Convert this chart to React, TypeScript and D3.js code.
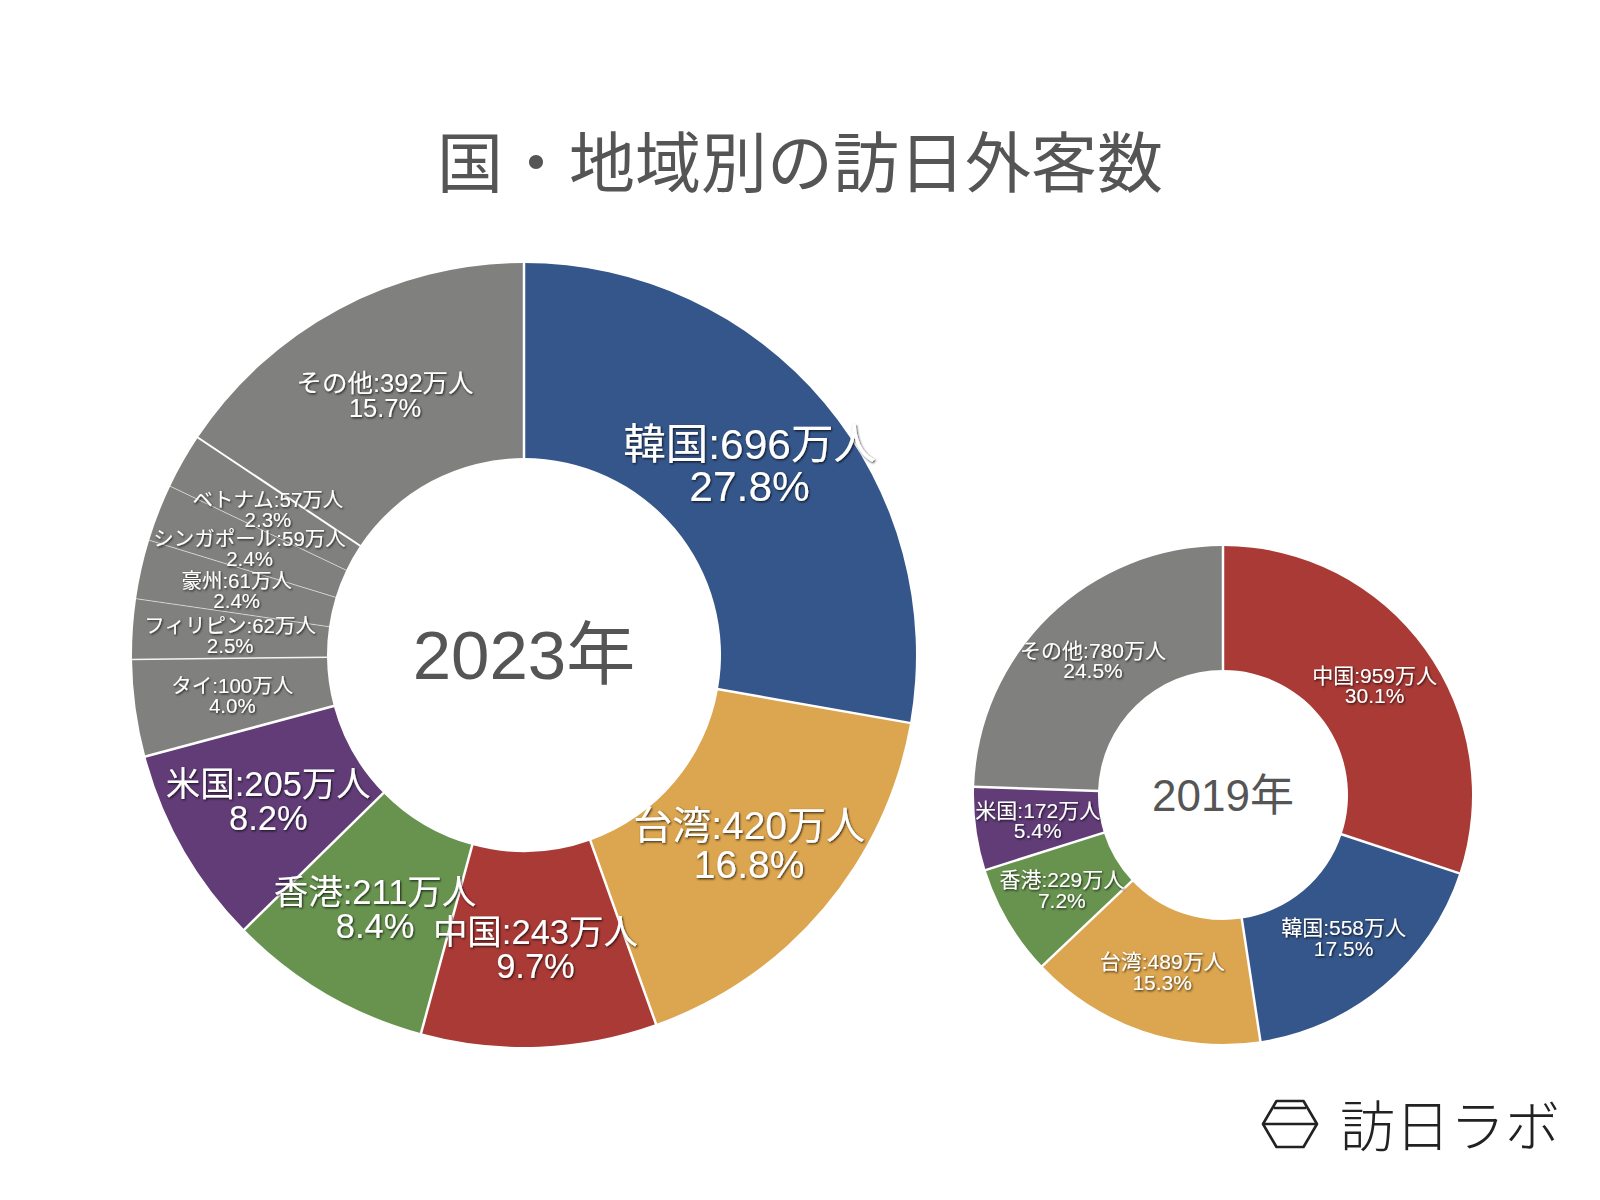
import React from "react";
import * as d3 from "d3";

// ---- data ----
const names2023 = ["韓国", "台湾", "中国", "香港", "米国", "タイ", "フィリピン", "豪州", "シンガポール", "ベトナム", "その他"];
const values2023 = [696, 420, 243, 211, 205, 100, 62, 61, 59, 57, 392];
const pct2023 = ["27.8%", "16.8%", "9.7%", "8.4%", "8.2%", "4.0%", "2.5%", "2.4%", "2.4%", "2.3%", "15.7%"];

const names2019 = ["中国", "韓国", "台湾", "香港", "米国", "その他"];
const values2019 = [959, 558, 489, 229, 172, 780];
const pct2019 = ["30.1%", "17.5%", "15.3%", "7.2%", "5.4%", "24.5%"];

const title = "国・地域別の訪日外客数";
const year2023 = "2023年";
const year2019 = "2019年";
const brand = "訪日ラボ";

// ---- styles ----
const colorOf: Record<string, string> = {
  韓国: "#35568A",
  台湾: "#DCA54F",
  中国: "#A93A36",
  香港: "#68934F",
  米国: "#613C77",
};
const GRAY = "#80807E";
const FONT = "'Noto Sans CJK JP', 'Noto Sans', sans-serif";
const MIX_FONT = "'Liberation Sans', 'Noto Sans CJK JP', sans-serif";

const labelSize2023: Record<string, number> = {
  韓国: 42.5,
  台湾: 39,
  中国: 34.5,
  香港: 34.5,
  米国: 34.5,
  その他: 25.5,
};
const smallLabel = 20.5;

type Donut = {
  names: string[];
  values: number[];
  pcts: string[];
  cx: number;
  cy: number;
  r0: number;
  r1: number;
  sizeOf: (n: string) => number;
  year: string;
  yearSize: number;
  boundary: (a: string, b: string) => { stroke: string; width: number };
};

const isColored = (n: string) => n in colorOf;

function DonutChart({ d }: { d: Donut }) {
  const pie = d3.pie<number>().sort(null).value((v) => v);
  const arcs = pie(d.values);
  const arc = d3.arc<d3.PieArcDatum<number>>().innerRadius(d.r0).outerRadius(d.r1);
  const n = arcs.length;
  return (
    <g transform={`translate(${d.cx},${d.cy})`}>
      {arcs.map((a, i) => (
        <path key={i} d={arc(a) || ""} fill={colorOf[d.names[i]] || GRAY} />
      ))}
      {arcs.map((a, i) => {
        const prev = d.names[(i - 1 + n) % n];
        const st = d.boundary(prev, d.names[i]);
        const ang = a.startAngle;
        const sx = Math.sin(ang), sy = -Math.cos(ang);
        return (
          <line
            key={"b" + i}
            x1={sx * (d.r0 - 1)}
            y1={sy * (d.r0 - 1)}
            x2={sx * (d.r1 + 1)}
            y2={sy * (d.r1 + 1)}
            stroke={st.stroke}
            strokeWidth={st.width}
          />
        );
      })}
      {arcs.map((a, i) => {
        const [x, y] = arc.centroid(a);
        const fs = d.sizeOf(d.names[i]);
        const lh = fs * 0.98;
        return (
          <g key={"t" + i} filter="url(#shadow)" fill="#fff" fontFamily={MIX_FONT} fontSize={fs} textAnchor="middle">
            <text x={x} y={y - lh / 2} dominantBaseline="central">
              {d.names[i] + ":" + d.values[i] + "万人"}
            </text>
            <text x={x} y={y + lh / 2} dominantBaseline="central">
              {d.pcts[i]}
            </text>
          </g>
        );
      })}
      <text x={0} y={0} textAnchor="middle" dominantBaseline="central" fontFamily={MIX_FONT} fontSize={d.yearSize} fill="#555">
        {d.year}
      </text>
    </g>
  );
}

export default function App() {
  const big: Donut = {
    names: names2023,
    values: values2023,
    pcts: pct2023,
    cx: 524,
    cy: 655,
    r0: 197,
    r1: 392,
    sizeOf: (nm) => labelSize2023[nm] || smallLabel,
    year: year2023,
    yearSize: 69,
    boundary: (a, b) => {
      if (isColored(a) || isColored(b)) return { stroke: "#fff", width: 2.5 };
      if (a === "その他" || b === "その他") return { stroke: "#fff", width: 2 };
      if (a === "タイ" || b === "タイ") return { stroke: "#f4f4f4", width: 1.5 };
      return { stroke: "rgba(255,255,255,0.55)", width: 1 };
    },
  };
  const small: Donut = {
    names: names2019,
    values: values2019,
    pcts: pct2019,
    cx: 1223,
    cy: 795,
    r0: 125,
    r1: 249,
    sizeOf: () => 21,
    year: year2019,
    yearSize: 44,
    boundary: () => ({ stroke: "#fff", width: 2.5 }),
  };

  // brand icon geometry (hexagon-like mark)
  const ix = 1263, iy = 1101, iw = 54, ih = 46;
  const hex = [
    [ix, iy + ih / 2],
    [ix + iw * 0.25, iy],
    [ix + iw * 0.75, iy],
    [ix + iw, iy + ih / 2],
    [ix + iw * 0.75, iy + ih],
    [ix + iw * 0.25, iy + ih],
  ];

  return (
    <svg
      width={1600}
      height={1200}
      viewBox="0 0 1600 1200"
      style={{ position: "absolute", left: 0, top: 0, background: "#fff" }}
    >
      <defs>
        <filter id="shadow" x="-20%" y="-40%" width="140%" height="180%">
          <feDropShadow dx="1" dy="1.2" stdDeviation="1.3" floodColor="#000" floodOpacity="0.75" />
        </filter>
      </defs>
      <rect width={1600} height={1200} fill="#fff" />
      <text x={800} y={158} textAnchor="middle" dominantBaseline="central" fontFamily={FONT} fontSize={66} fontWeight={400} fill="#555">
        {title}
      </text>
      <DonutChart d={big} />
      <DonutChart d={small} />
      <g stroke="#222" strokeWidth={2.6} fill="none" strokeLinejoin="round">
        <polygon points={hex.map((p) => p.join(",")).join(" ")} />
        <line x1={ix} y1={iy + ih / 2} x2={ix + iw} y2={iy + ih / 2} />
        <line x1={ix + iw * 0.2} y1={iy + 7} x2={ix + iw * 0.8} y2={iy + 7} />
      </g>
      <text x={1340} y={1122} dominantBaseline="central" fontFamily={FONT} fontSize={55} fontWeight={300} fill="#222">
        {brand}
      </text>
    </svg>
  );
}
